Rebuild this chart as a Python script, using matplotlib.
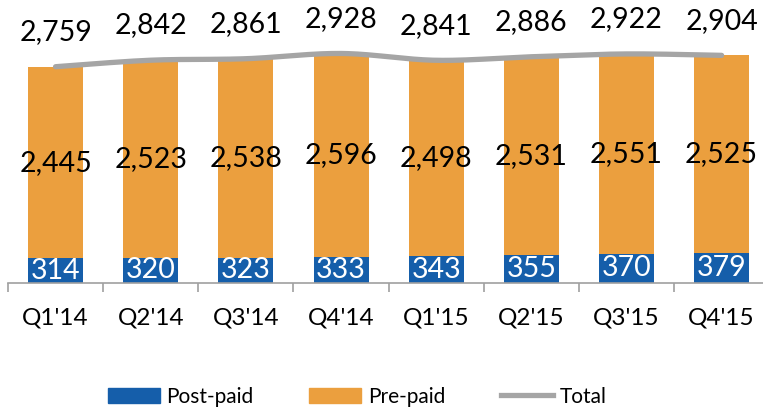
import numpy as np
import matplotlib.pyplot as plt
from matplotlib.lines import Line2D
from matplotlib.patches import Patch

quarters = ["Q1'14", "Q2'14", "Q3'14", "Q4'14", "Q1'15", "Q2'15", "Q3'15", "Q4'15"]
postpaid = [314, 320, 323, 333, 343, 355, 370, 379]
prepaid = [2445, 2523, 2538, 2596, 2498, 2531, 2551, 2525]
total = [2759, 2842, 2861, 2928, 2841, 2886, 2922, 2904]

BLUE = '#155EAA'
ORANGE = '#EB9F3E'
GRAY = '#A5A5A5'

plt.rcParams['font.family'] = ['Lato', 'DejaVu Sans']


def smooth(xs, ys, n=30):
    # catmull-rom style bezier, like a smoothed spreadsheet line
    xs = np.asarray(xs, float)
    ys = np.asarray(ys, float)
    px, py = [], []
    for i in range(len(xs) - 1):
        x0, y0 = (xs[i - 1], ys[i - 1]) if i > 0 else (xs[i], ys[i])
        x3, y3 = (xs[i + 2], ys[i + 2]) if i + 2 < len(xs) else (xs[i + 1], ys[i + 1])
        x1, y1, x2, y2 = xs[i], ys[i], xs[i + 1], ys[i + 1]
        c1x, c1y = x1 + (x2 - x0) / 6, y1 + (y2 - y0) / 6
        c2x, c2y = x2 - (x3 - x1) / 6, y2 - (y3 - y1) / 6
        t = np.linspace(0, 1, n)
        bx = (1-t)**3*x1 + 3*(1-t)**2*t*c1x + 3*(1-t)*t**2*c2x + t**3*x2
        by = (1-t)**3*y1 + 3*(1-t)**2*t*c1y + 3*(1-t)*t**2*c2y + t**3*y2
        px.extend(bx)
        py.extend(by)
    return px, py


fig = plt.figure(figsize=(7.63, 4.11), dpi=100)
ax = fig.add_axes([8 / 763, 128 / 411, 1 - 8 / 763, 1 - 128 / 411])

x = np.arange(len(quarters))
w = 0.578
ax.bar(x, postpaid, w, color=BLUE, zorder=2)
ax.bar(x, prepaid, w, bottom=postpaid, color=ORANGE, zorder=2)

sx, sy = smooth(x, total)
ax.plot(sx, sy, color=GRAY, lw=3.8, solid_capstyle='round', zorder=3)

fs = 20.5
for i in range(len(quarters)):
    ax.text(x[i], postpaid[i] / 2, f'{postpaid[i]:,}', ha='center', va='center',
            color='white', fontsize=fs, zorder=4)
    ax.text(x[i], postpaid[i] + prepaid[i] / 2, f'{prepaid[i]:,}', ha='center',
            va='center', color='black', fontsize=fs, zorder=4)
    ax.annotate(f'{total[i]:,}', (x[i], total[i]), xytext=(0, 25),
                textcoords='offset points', ha='center', va='center',
                color='black', fontsize=fs, zorder=4)

ax.set_xlim(-0.5, 7.435)
ax.set_ylim(0, 3610)
ax.set_yticks([])
for s in ['top', 'right', 'left']:
    ax.spines[s].set_visible(False)
ax.spines['bottom'].set_color('#A0A0A0')
ax.spines['bottom'].set_linewidth(1.2)

ax.set_xticks(x)
ax.set_xticklabels(quarters, fontsize=17.5)
ax.tick_params(axis='x', which='major', length=0, pad=18)
ax.set_xticks(np.arange(-0.5, 7.5, 1), minor=True)
ax.tick_params(axis='x', which='minor', length=6.5, width=1.2, color='#A0A0A0',
               direction='out')

handles = [Patch(color=BLUE, label='Post-paid'),
           Patch(color=ORANGE, label='Pre-paid'),
           Line2D([0], [0], color=GRAY, lw=3.8, label='Total')]
fig.legend(handles=handles, loc='center', bbox_to_anchor=(0.468, 0.035), ncol=3,
           frameon=False, fontsize=15, handlelength=2.5, handleheight=0.72,
           handletextpad=0.3, columnspacing=2.7)

fig.savefig('out.png', dpi=100)
